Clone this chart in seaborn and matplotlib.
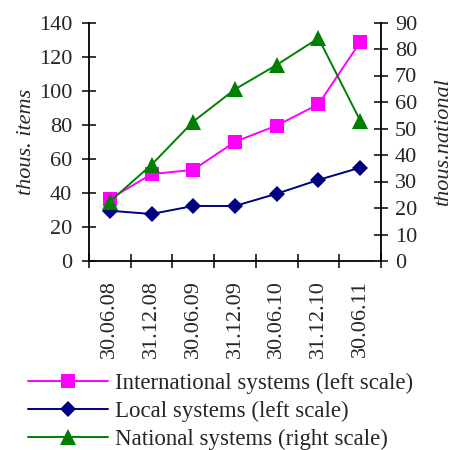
import numpy as np
import pandas as pd
import matplotlib
matplotlib.use("Agg")
import matplotlib.pyplot as plt
import seaborn as sns

# data
dates = ["30.06.08", "31.12.08", "30.06.09", "31.12.09", "30.06.10", "31.12.10", "30.06.11"]
international = [36.4, 51, 53.5, 70, 79.5, 92, 128.5]
local = [29.5, 27.6, 32.3, 32.3, 39.5, 47.6, 54.8]
national = [22.4, 36.3, 52.6, 64.8, 74, 84.1, 53]

sns.set_theme(style="ticks")
plt.rcParams["font.family"] = ["Liberation Serif", "DejaVu Serif"]
plt.rcParams["font.size"] = 16

pos = np.arange(len(dates))
df = pd.DataFrame({"pos": pos, "international": international,
                   "local": local, "national": national})

fig = plt.figure(figsize=(4.63, 4.5), dpi=100)
ax = fig.add_axes([0.192, 0.42, 0.631, 0.53])
ax2 = ax.twinx()

sns.lineplot(data=df, x="pos", y="international", ax=ax, color="#FF00FF",
             marker="s", markersize=10, markeredgewidth=0, linewidth=1.4,
             label="International systems (left scale)", legend=False)
sns.lineplot(data=df, x="pos", y="local", ax=ax, color="#000080",
             marker="D", markersize=8, markeredgewidth=0, linewidth=1.4,
             label="Local systems (left scale)", legend=False)
sns.lineplot(data=df, x="pos", y="national", ax=ax2, color="#008000",
             marker="^", markersize=11, markeredgewidth=0, linewidth=1.4,
             label="National systems (right scale)", legend=False)

ax.set_xlim(-0.5, len(dates) - 0.5)
ax.set_ylim(0, 140)
ax.set_yticks(np.arange(0, 141, 20))
ax2.set_ylim(0, 90)
ax2.set_yticks(np.arange(0, 91, 10))

# labels at category centers, tick marks at category boundaries
ax.set_xticks(pos)
ax.set_xticklabels(dates, rotation=90)
ax.set_xticks(np.arange(-0.5, len(dates)), minor=True)
ax.tick_params(axis="x", which="major", length=0, pad=14, labelsize=16)
ax.tick_params(axis="x", which="minor", length=10, width=1.3, direction="inout")
ax.tick_params(axis="y", length=10, width=1.3, direction="inout", labelsize=16, pad=7)
ax2.tick_params(axis="y", length=10, width=1.3, direction="inout", labelsize=16, pad=5)

ax.set_xlabel("")
ax.set_ylabel("thous. items", fontstyle="italic", fontsize=16, labelpad=2)
ax2.set_ylabel("thous.national", fontstyle="italic", fontsize=16, labelpad=12)

for a in (ax, ax2):
    a.spines["top"].set_visible(False)
    for s in ("left", "right", "bottom"):
        a.spines[s].set_linewidth(1.3)
        a.spines[s].set_color("black")
ax.spines["right"].set_visible(False)
ax2.spines["left"].set_visible(False)
ax2.spines["bottom"].set_visible(False)

handles = ax.get_lines() + ax2.get_lines()
labels = [h.get_label() for h in handles]
fig.legend(handles, labels, loc="upper left", bbox_to_anchor=(0.06, 0.172),
           bbox_transform=fig.transFigure, frameon=False, fontsize=16.5,
           handlelength=3.5, handletextpad=0.3, labelspacing=0.3,
           borderaxespad=0, borderpad=0)

plt.savefig("out.png", dpi=100)
plt.close()
